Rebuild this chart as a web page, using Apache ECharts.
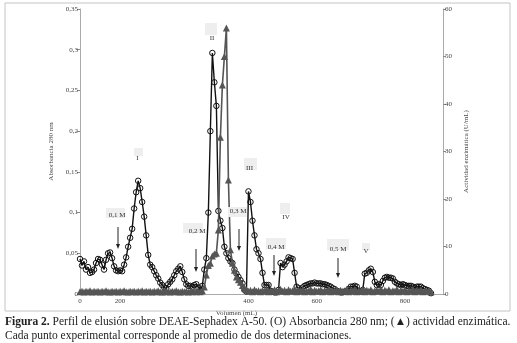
<!DOCTYPE html>
<html>
<head>
<meta charset="utf-8">
<script src="https://cdn.jsdelivr.net/npm/echarts@6/dist/echarts.min.js"></script>
<style>
html,body{margin:0;padding:0;background:#fff;}
#c{width:517px;height:343px;}
</style>
</head>
<body>
<div id="c"></div>
<script>
// Fractions (category axis), tick labels of volume (mL)
const fractions = Array.from({length: 182}, (_, i) => String(i + 1));
const xTickIndex = [0, 20, 84, 118, 162];
const xTickLabels = ['0', '200', '400', '600', '800'];

// Absorbance 280 nm (left axis)
const absorbance = [
 0.043,0.035,0.040,0.030,0.033,0.026,0.027,0.030,0.038,0.043,
 0.042,0.036,0.030,0.042,0.050,0.051,0.044,0.034,0.029,0.028,
 0.029,0.028,0.036,0.045,0.058,0.069,0.080,0.105,0.125,0.139,
 0.130,0.113,0.095,0.072,0.048,0.036,0.033,0.028,0.023,0.019,
 0.014,0.011,0.008,0.007,0.012,0.015,0.018,0.023,0.028,0.031,
 0.034,0.027,0.018,0.012,0.010,0.010,0.009,0.011,0.012,0.008,
 0.005,0.010,0.030,0.044,0.100,0.200,0.296,0.260,0.231,0.102,
 0.090,0.081,0.058,0.050,0.044,0.040,0.038,0.030,0.025,0.021,
 0.017,0.013,0.005,0.003,0.126,0.113,0.090,0.072,0.055,0.050,
 0.043,0.026,0.011,0.011,0.011,0.004,0.003,0.002,0.002,0.005,
 0.038,0.033,0.036,0.040,0.045,0.044,0.043,0.026,0.009,0.007,
 0.005,0.008,0.010,0.011,0.012,0.013,0.013,0.014,0.013,0.013,
 0.013,0.012,0.012,0.011,0.010,0.009,0.007,0.006,0.004,0.003,
 0.002,0.002,0.003,0.004,0.006,0.009,0.009,0.010,0.009,0.004,
 0.003,0.005,0.025,0.026,0.029,0.031,0.027,0.015,0.011,0.012,
 0.011,0.016,0.020,0.021,0.020,0.020,0.019,0.015,0.013,0.012,
 0.011,0.012,0.011,0.010,0.010,0.010,0.009,0.008,0.009,0.009,
 0.009,0.007,0.006,0.005,0.004,0.001
];

// Enzymatic activity U/mL (right axis)
const activity = [
 0.5,0.6,0.4,0.6,0.5,0.7,0.4,0.6,0.5,0.6,
 0.4,0.6,0.5,0.7,0.5,0.4,0.6,0.5,0.6,0.4,
 0.6,0.5,0.7,0.5,0.4,0.6,0.5,0.6,0.4,0.6,
 0.5,0.7,0.4,0.6,0.5,0.6,0.4,0.6,0.5,0.7,
 0.5,0.4,0.6,0.5,0.6,0.4,0.6,0.5,0.7,0.5,
 0.4,0.6,0.5,0.6,0.4,0.6,0.5,0.7,0.5,0.6,
 0.5,0.7,1.5,4.0,6.0,6.5,8.0,8.4,8.6,13.5,
 33,44,50,56,24,9.3,6.5,5.0,3.6,3.0,
 2.5,1.8,1.3,0.9,0.6,0.8,0.5,0.9,0.6,0.7,
 0.5,0.8,0.6,1.0,0.5,0.7,0.6,0.9,0.5,0.8,
 1.0,0.6,0.8,0.5,0.9,0.6,0.7,1.0,0.5,0.8,
 0.6,0.9,0.5,0.7,0.6,1.0,0.5,0.8,0.6,0.7,
 0.9,0.5,0.8,0.6,1.0,0.5,0.7,0.6,0.9,0.5,
 0.8,0.6,0.7,1.0,0.5,0.8,0.6,0.9,0.5,0.7,
 0.6,1.0,0.5,0.8,0.6,0.9,0.5,0.7,0.8,0.6,
 1.0,0.5,0.8,0.6,0.9,0.5,0.7,0.6,1.0,0.5,
 0.8,0.6,0.9,0.5,0.7,0.6,1.0,0.5,0.8,0.6,
 0.9,0.5,0.7,0.6,0.8,0.4
];

const serif = "'Liberation Serif','DejaVu Serif',serif";
const chart = echarts.init(document.getElementById('c'), null, {renderer: 'canvas'});

function arrow(x, y1, y2) {
  return [
    {type: 'line', shape: {x1: x, y1: y1, x2: x, y2: y2 - 4}, style: {stroke: '#222', lineWidth: 1}, z: 50},
    {type: 'polygon', shape: {points: [[x - 2, y2 - 5], [x + 2, y2 - 5], [x, y2]]}, style: {fill: '#222'}, z: 50}
  ];
}
function box(x, y, w, h) {
  return {type: 'rect', shape: {x: x, y: y, width: w, height: h}, style: {fill: '#eeeeee'}, z: 40};
}
function label(t, x, y, size) {
  return {type: 'text', x: x, y: y, style: {text: t, fontFamily: serif, fontSize: size || 7, fill: '#333', align: 'center', verticalAlign: 'middle'}, z: 60};
}

const graphics = [
  {type: 'rect', shape: {x: 5, y: 3, width: 505, height: 308}, style: {fill: 'none', stroke: '#c4c4c4', lineWidth: 1}, z: 1},
  box(134, 148, 9, 8), label('I', 137.5, 158),
  box(205, 23, 12, 12), label('II', 212, 38),
  box(244, 158, 13, 12), label('III', 249.5, 168),
  box(280, 203, 10, 11), label('IV', 286, 217),
  box(362, 243, 8, 7), label('V', 366, 251),
  box(106, 208, 19, 10), label('0,1 M', 117, 215),
  box(183, 223, 20, 10), label('0,2 M', 197, 231),
  box(228, 207, 19, 10), label('0,3 M', 238, 211),
  box(266, 238, 20, 11), label('0,4 M', 276, 247),
  box(327, 239, 22, 11), label('0,5 M', 338, 249),
  ...arrow(118, 227, 249),
  ...arrow(196, 249, 272),
  ...arrow(239, 229, 251),
  ...arrow(274, 255, 276),
  ...arrow(338, 258, 278),
  {type: 'text', x: 5, y: 315, style: {
    text: '{b|Figura 2.} Perfil de elusión sobre DEAE-Sephadex A-50. (O) Absorbancia 280 nm; (▲) actividad enzimática.\nCada punto experimental corresponde al promedio de dos determinaciones.',
    fontFamily: serif, fontSize: 11.5, fill: '#222', lineHeight: 14,
    rich: {b: {fontWeight: 'bold', fontFamily: serif, fontSize: 11.5, fill: '#222'}}
  }, z: 60}
];

const axisLbl = {fontFamily: serif, fontSize: 7, color: '#444'};

chart.setOption({
  animation: false,
  backgroundColor: '#fff',
  grid: {left: 80, right: 74, top: 9, bottom: 49},
  xAxis: {
    type: 'category', data: fractions, boundaryGap: false,
    axisLine: {lineStyle: {color: '#aaa', width: 1}},
    axisTick: {show: false},
    splitLine: {show: false},
    axisLabel: Object.assign({}, axisLbl, {
      interval: (i) => xTickIndex.indexOf(i) >= 0,
      formatter: (v, i) => xTickLabels[xTickIndex.indexOf(i)] || '',
      margin: 4
    }),
    name: 'Volumen (mL)', nameLocation: 'middle', nameGap: 11,
    nameTextStyle: {fontFamily: serif, fontSize: 7, color: '#444', padding: [0, 50, 0, 0]}
  },
  yAxis: [{
    type: 'value', min: 0, max: 0.35, interval: 0.05, position: 'left',
    axisLine: {show: true, lineStyle: {color: '#aaa'}},
    axisTick: {show: true, length: 3, lineStyle: {color: '#888'}},
    splitLine: {show: false},
    axisLabel: Object.assign({}, axisLbl, {margin: 2, formatter: (v) => String(+v.toFixed(2)).replace('.', ',')}),
    name: 'Absorbancia 280 nm', nameLocation: 'middle', nameGap: 18, nameRotate: 90,
    nameTextStyle: {fontFamily: serif, fontSize: 7, color: '#444'}
  }, {
    type: 'value', min: 0, max: 60, interval: 10, position: 'right',
    axisLine: {show: true, lineStyle: {color: '#aaa'}},
    axisTick: {show: true, length: 3, lineStyle: {color: '#888'}},
    splitLine: {show: false},
    axisLabel: Object.assign({}, axisLbl, {margin: 2}),
    name: 'Actividad enzimática (U/mL)', nameLocation: 'middle', nameGap: 14, nameRotate: 90,
    nameTextStyle: {fontFamily: serif, fontSize: 7, color: '#444'}
  }],
  series: [{
    name: 'Absorbancia 280 nm', type: 'line', yAxisIndex: 0, data: absorbance,
    symbol: 'circle', symbolSize: 5.5, showAllSymbol: true,
    itemStyle: {color: 'rgba(255,255,255,0)', borderColor: '#111', borderWidth: 1},
    lineStyle: {color: '#111', width: 1.4},
    emphasis: {disabled: true}, z: 3
  }, {
    name: 'Actividad enzimática', type: 'line', yAxisIndex: 1, data: activity,
    symbol: 'triangle', symbolSize: 7, showAllSymbol: true, clip: false,
    itemStyle: {color: '#555'},
    lineStyle: {color: '#555', width: 1.6},
    emphasis: {disabled: true}, z: 4
  }],
  graphic: graphics
});
</script>
</body>
</html>
